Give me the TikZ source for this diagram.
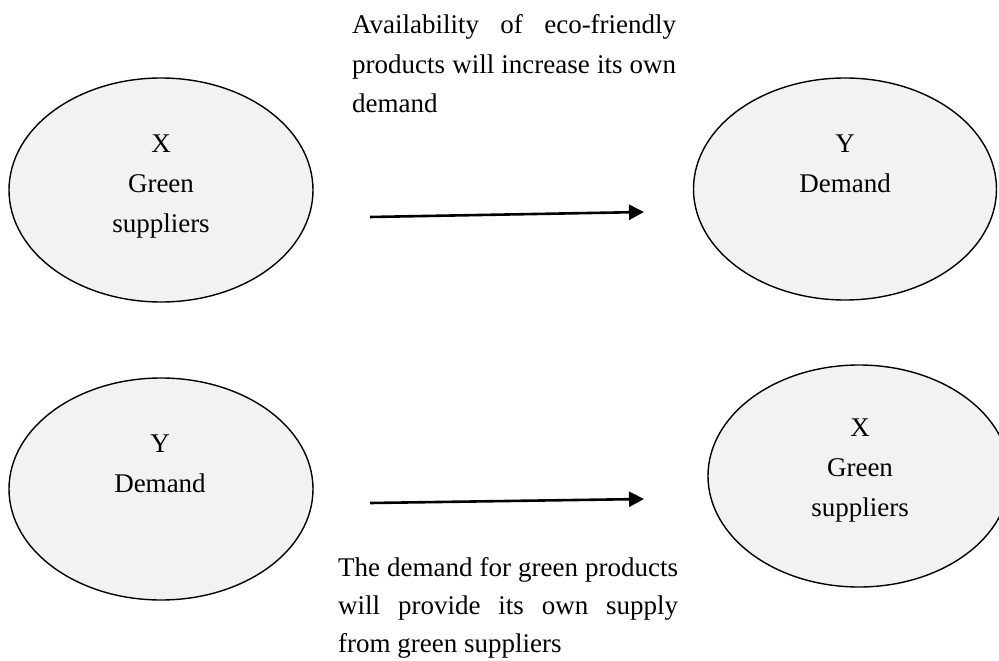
\documentclass[tikz,border=0pt]{standalone}
\usepackage{fontspec}
\setmainfont{Liberation Serif}
\usetikzlibrary{shapes.geometric,arrows.meta}
\definecolor{bubblegray}{HTML}{F2F2F2}
\begin{document}
\begin{tikzpicture}[x=1pt,y=-1pt,
  bubble/.style={ellipse,draw=black,line width=1.4pt,fill=bubblegray,inner sep=0pt},
  lbl/.style={font=\fontsize{27}{40}\selectfont,align=center,inner sep=0pt,anchor=north},
  para/.style={font=\fontsize{27}{39.5}\selectfont,align=left,inner sep=0pt,anchor=north west},
  link/.style={line width=2.6pt,-{Triangle[length=15pt,width=15pt]}}]
\useasboundingbox (0,0) rectangle (999,661);
\node[bubble,minimum width=304pt,minimum height=224pt] (e1) at (161,190) {};
\node[bubble,minimum width=303pt,minimum height=222pt] (e2) at (845,189) {};
\node[bubble,minimum width=304pt,minimum height=222pt] (e3) at (161,489) {};
\node[bubble,minimum width=302pt,minimum height=222pt] (e4) at (859,476) {};
\node[lbl] (t1) at (161,135) {X\\Green\\suppliers};
\node[lbl] (t2) at (845,135) {Y\\Demand};
\node[lbl] (t3) at (160,435) {Y\\Demand};
\node[lbl] (t4) at (860,419) {X\\Green\\suppliers};
\coordinate (a1s) at (370,217);
\coordinate (a1e) at (644,212);
\coordinate (a2s) at (370,503);
\coordinate (a2e) at (644,499);
\draw[link] (a1s) -- (a1e);
\draw[link] (a2s) -- (a2e);
\node[para] (p1) at (352,14.6) {\makebox[324pt][s]{Availability of eco-friendly}\\\makebox[324pt][s]{products will increase its own}\\demand};
\node[para,font=\fontsize{27}{38}\selectfont] (p2) at (338,557.6) {\makebox[340pt][s]{The demand for green products}\\\makebox[340pt][s]{will provide its own supply}\\from green suppliers};
\end{tikzpicture}
\end{document}
